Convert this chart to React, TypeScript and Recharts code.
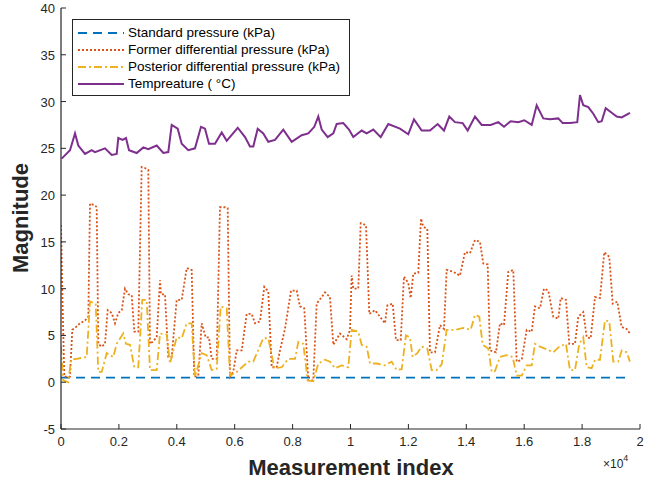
import { Line, LineChart, XAxis, YAxis } from "recharts";

// [measurement index, value]
const standardPressure: [number, number][] = [
  [0, 0.5], [4000, 0.5], [8000, 0.5], [12000, 0.5], [16000, 0.5], [19650, 0.5],
];

const formerPressure: [number, number][] = [
  [0, 16.8], [45, 9.8], [114, 0.6], [311, 0.6], [390, 5.6], [484, 5.8], [656, 6.3], [829, 6.6],
  [943, 7.0], [1002, 19.1], [1174, 18.9], [1233, 18.7], [1288, 4.1], [1406, 3.8], [1520, 4.1],
  [1613, 7.7], [1751, 7.4], [1865, 6.3], [1979, 7.4], [2097, 7.7], [2211, 10.0], [2325, 9.4],
  [2442, 9.3], [2532, 5.4], [2670, 5.4], [2787, 23.0], [2901, 22.9], [3015, 22.7], [3074, 4.1],
  [3154, 4.3], [3306, 4.8], [3420, 10.9], [3454, 9.4], [3592, 9.4], [3706, 2.7], [3824, 2.7],
  [3996, 8.8], [4169, 8.8], [4342, 12.2], [4514, 12.0], [4604, 0.6], [4742, 0.7], [4860, 6.3],
  [4998, 4.8], [5112, 4.8], [5205, 2.5], [5378, 2.5], [5492, 18.7], [5665, 18.7], [5758, 18.6],
  [5837, 0.6], [5951, 1.1], [6069, 3.4], [6242, 3.4], [6414, 7.3], [6587, 7.3], [6701, 6.3],
  [6873, 6.5], [7022, 10.2], [7160, 9.7], [7278, 1.6], [7450, 1.6], [7564, 3.4], [7737, 5.7],
  [7945, 9.8], [8141, 9.8], [8255, 8.1], [8404, 7.9], [8542, 0.2], [8714, 0.2], [8832, 8.4],
  [9005, 9.1], [9119, 9.6], [9291, 9.1], [9406, 4.0], [9637, 5.2], [9868, 4.6], [9982, 5.6],
  [10041, 11.4], [10096, 10.0], [10269, 10.0], [10352, 17.0], [10535, 16.8], [10649, 7.3],
  [10846, 7.7], [11019, 7.0], [11191, 6.3], [11271, 8.2], [11457, 8.4], [11571, 4.5], [11734, 4.5],
  [11847, 11.3], [11996, 10.6], [12079, 9.0], [12169, 11.6], [12342, 11.7], [12435, 17.5],
  [12515, 16.6], [12653, 16.4], [12745, 3.2], [12918, 3.2], [13091, 6.1], [13229, 5.7],
  [13322, 12.0], [13550, 11.8], [13782, 11.4], [13954, 13.9], [14127, 13.8], [14300, 15.2],
  [14472, 15.0], [14586, 12.7], [14738, 12.6], [14818, 3.4], [15025, 3.2], [15163, 6.3],
  [15302, 6.1], [15450, 11.8], [15623, 12.0], [15740, 2.2], [15913, 2.4], [16086, 5.6],
  [16259, 5.4], [16372, 8.1], [16545, 7.9], [16683, 10.0], [16832, 9.8], [17004, 7.0],
  [17177, 6.8], [17260, 9.0], [17443, 8.8], [17557, 4.1], [17754, 4.1], [17868, 7.0],
  [18041, 7.5], [18158, 4.8], [18296, 4.7], [18445, 9.1], [18617, 9.0], [18766, 13.9],
  [18939, 13.4], [19056, 8.4], [19215, 8.6], [19367, 5.9], [19540, 5.7], [19653, 5.2],
];

const posteriorPressure: [number, number][] = [
  [0, 3.8], [79, 0.2], [252, 0.0], [345, 2.4], [542, 2.5], [888, 2.7], [1002, 8.6], [1199, 8.4],
  [1288, 1.1], [1406, 1.1], [1579, 3.1], [1806, 2.7], [1924, 4.1], [2152, 5.2], [2245, 4.1],
  [2383, 4.0], [2532, 1.6], [2670, 1.6], [2808, 8.8], [2960, 8.8], [3074, 1.3], [3306, 1.3],
  [3420, 5.2], [3651, 5.1], [3765, 2.0], [3996, 4.8], [4169, 4.7], [4342, 6.3], [4514, 6.3],
  [4628, 0.6], [4860, 3.1], [5033, 2.9], [5205, 1.3], [5378, 1.4], [5516, 8.1], [5724, 7.9],
  [5837, 0.7], [6069, 1.1], [6470, 2.2], [6642, 2.2], [6987, 4.7], [7160, 4.7], [7368, 1.5],
  [7623, 1.6], [7851, 2.5], [8083, 2.5], [8197, 4.3], [8369, 4.1], [8521, 0.2], [8714, 0.1],
  [8887, 2.0], [9119, 2.4], [9291, 2.2], [9464, 1.5], [9696, 1.8], [9923, 1.6], [10041, 5.6],
  [10269, 5.4], [10386, 4.0], [10559, 3.8], [10673, 2.0], [10904, 2.0], [11191, 1.8],
  [11422, 2.2], [11595, 1.3], [11768, 1.4], [11916, 5.0], [12054, 4.8], [12147, 2.7],
  [12306, 3.1], [12459, 3.8], [12653, 3.6], [12804, 1.3], [12977, 1.3], [13150, 1.9],
  [13322, 5.6], [13609, 5.6], [13896, 5.8], [14151, 5.6], [14300, 7.2], [14448, 7.0],
  [14566, 4.0], [14759, 3.6], [14876, 1.1], [14990, 1.2], [15163, 2.7], [15394, 2.9],
  [15602, 2.7], [15740, 0.7], [15913, 0.7], [16086, 1.8], [16259, 1.8], [16372, 4.1],
  [16545, 3.8], [16718, 3.6], [17004, 3.2], [17212, 3.8], [17443, 4.1], [17581, 1.3],
  [17754, 1.3], [17902, 4.1], [18041, 4.8], [18158, 1.6], [18331, 1.5], [18445, 2.4],
  [18617, 2.4], [18790, 6.6], [18939, 6.5], [19077, 2.2], [19250, 2.2], [19367, 3.4],
  [19540, 3.2], [19653, 2.2],
];

const temperature: [number, number][] = [
  [24, 23.9], [311, 24.8], [484, 26.6], [598, 25.3], [829, 24.4], [1060, 24.8], [1174, 24.6],
  [1520, 25.0], [1751, 24.3], [1924, 24.4], [1979, 26.1], [2131, 25.9], [2245, 26.1], [2349, 24.8],
  [2615, 24.5], [2843, 25.1], [3015, 24.9], [3306, 25.3], [3534, 24.5], [3706, 24.6], [3824, 27.5],
  [4031, 27.1], [4169, 25.5], [4397, 24.8], [4628, 25.0], [4836, 27.3], [4974, 27.1], [5112, 25.5],
  [5319, 25.5], [5551, 26.7], [5724, 25.8], [6104, 27.2], [6356, 26.2], [6528, 25.2], [6642, 25.2],
  [6794, 27.1], [6987, 26.6], [7160, 25.7], [7392, 25.9], [7678, 27.0], [7969, 25.7], [8314, 26.4],
  [8542, 26.6], [8749, 27.3], [8887, 28.4], [9005, 27.0], [9212, 26.2], [9406, 26.6], [9523, 27.6],
  [9751, 27.7], [9948, 27.0], [10096, 26.2], [10386, 26.9], [10559, 26.6], [10787, 27.0],
  [11043, 26.2], [11305, 27.6], [11709, 27.1], [11996, 26.5], [12193, 28.1], [12459, 26.9],
  [12745, 26.9], [13011, 27.6], [13229, 26.9], [13412, 28.4], [13609, 27.8], [13875, 27.7],
  [14048, 26.9], [14300, 28.4], [14531, 27.5], [14842, 27.5], [15105, 27.8], [15302, 27.3],
  [15533, 27.9], [15796, 27.8], [16003, 28.0], [16259, 27.5], [16431, 29.6], [16659, 28.2],
  [16891, 28.1], [17177, 28.2], [17329, 27.7], [17581, 27.7], [17833, 27.8], [17927, 30.7],
  [18041, 29.6], [18214, 29.4], [18387, 28.7], [18559, 27.8], [18677, 27.9], [18815, 29.3],
  [19022, 28.8], [19195, 28.4], [19367, 28.3], [19653, 28.8],
];

const xTicks = [0, 2000, 4000, 6000, 8000, 10000, 12000, 14000, 16000, 18000, 20000];
const yTicks = [-5, 0, 5, 10, 15, 20, 25, 30, 35, 40];

const seriesNames = [
  "Standard pressure (kPa)",
  "Former differential pressure (kPa)",
  "Posterior differential pressure (kPa)",
  "Tempreature ( \u00B0C)",
];
const seriesColors = ["#0072BD", "#D95319", "#EDB120", "#7E2F8E"];
const seriesDash = ["9 6", "2 2", "8 3 2 3", undefined];
const seriesWidth = [1.8, 1.8, 1.8, 2];
const seriesData = [standardPressure, formerPressure, posteriorPressure, temperature];

const AXIS = "#262626";
const FONT = "'Liberation Sans', Arial, Helvetica, sans-serif";

const toRows = (pts: [number, number][]) => pts.map(([x, v]) => ({ x, v }));

function BottomTick(props: any) {
  const { x, y, payload } = props;
  return (
    <g>
      <line x1={x} x2={x} y1={y} y2={y - 5} stroke={AXIS} strokeWidth={1} />
      <text x={x} y={y + 17} textAnchor="middle" fontSize={13} fill={AXIS} fontFamily={FONT}>
        {String(payload.value / 10000)}
      </text>
    </g>
  );
}

function TopTick(props: any) {
  const { x, y } = props;
  return <line x1={x} x2={x} y1={y} y2={y + 5} stroke={AXIS} strokeWidth={1} />;
}

function LeftTick(props: any) {
  const { x, y, payload } = props;
  const axisX = x + 6;
  return (
    <g>
      <line x1={axisX} x2={axisX + 5} y1={y} y2={y} stroke={AXIS} strokeWidth={1} />
      <text x={x} y={y + 5} textAnchor="end" fontSize={13} fill={AXIS} fontFamily={FONT}>
        {String(payload.value)}
      </text>
    </g>
  );
}

function RightTick(props: any) {
  const { x, y } = props;
  return <line x1={x} x2={x - 5} y1={y} y2={y} stroke={AXIS} strokeWidth={1} />;
}

function LegendBox() {
  return (
    <div
      style={{
        position: "absolute",
        left: 72,
        top: 19,
        width: 276,
        height: 75,
        border: `1.5px solid ${AXIS}`,
        background: "#fff",
        fontFamily: FONT,
        fontSize: 13.5,
        color: "#000",
        boxSizing: "content-box",
      }}
    >
      {seriesNames.map((name, i) => (
        <div
          key={name}
          style={{ position: "absolute", left: 4, top: 4 + i * 17, height: 17, display: "flex", alignItems: "center", whiteSpace: "nowrap" }}
        >
          <svg width={48} height={10} style={{ marginRight: 3 }}>
            <line
              x1={1}
              x2={47}
              y1={5}
              y2={5}
              stroke={seriesColors[i]}
              strokeWidth={seriesWidth[i]}
              strokeDasharray={seriesDash[i]}
            />
          </svg>
          <span>{name}</span>
        </div>
      ))}
    </div>
  );
}

export default function App() {
  return (
    <div style={{ position: "fixed", left: 0, top: 0, width: 660, height: 481, background: "#fff" }}>
      <LineChart width={660} height={481} margin={{ top: 8, right: 20, left: 20, bottom: 30 }}>
        <XAxis
          xAxisId="b"
          dataKey="x"
          type="number"
          domain={[0, 20000]}
          ticks={xTicks}
          interval={0}
          height={22}
          tickSize={0}
          tickMargin={0}
          tickLine={false}
          axisLine={{ stroke: AXIS, strokeWidth: 1.2 }}
          tick={BottomTick}
          allowDataOverflow
        />
        <XAxis
          xAxisId="t"
          orientation="top"
          type="number"
          domain={[0, 20000]}
          ticks={xTicks}
          interval={0}
          height={0}
          tickSize={0}
          tickMargin={0}
          tickLine={false}
          axisLine={{ stroke: AXIS, strokeWidth: 1.2 }}
          tick={TopTick}
          allowDataOverflow
        />
        <YAxis
          yAxisId="l"
          type="number"
          domain={[-5, 40]}
          ticks={yTicks}
          interval={0}
          width={41}
          tickSize={0}
          tickMargin={6}
          tickLine={false}
          axisLine={{ stroke: AXIS, strokeWidth: 1.2 }}
          tick={LeftTick}
          allowDataOverflow
        />
        <YAxis
          yAxisId="r"
          orientation="right"
          type="number"
          domain={[-5, 40]}
          ticks={yTicks}
          interval={0}
          width={0}
          tickSize={0}
          tickMargin={0}
          tickLine={false}
          axisLine={{ stroke: AXIS, strokeWidth: 1.2 }}
          tick={RightTick}
          allowDataOverflow
        />
        {seriesData.map((pts, i) => (
          <Line
            key={seriesNames[i]}
            xAxisId="b"
            yAxisId="l"
            data={toRows(pts)}
            dataKey="v"
            name={seriesNames[i]}
            type="linear"
            stroke={seriesColors[i]}
            strokeWidth={seriesWidth[i]}
            strokeDasharray={seriesDash[i]}
            dot={false}
            activeDot={false}
            isAnimationActive={false}
          />
        ))}
        <text
          x={22}
          y={218}
          transform="rotate(-90 22 218)"
          textAnchor="middle"
          dominantBaseline="middle"
          fontSize={22}
          fontWeight="bold"
          fill={AXIS}
          fontFamily={FONT}
        >
          Magnitude
        </text>
        <text x={351} y={475} textAnchor="middle" fontSize={22} fontWeight="bold" fill={AXIS} fontFamily={FONT}>
          Measurement index
        </text>
        <text x={603} y={468} fontSize={12} fill={AXIS} fontFamily={FONT}>
          {"\u00D710"}
          <tspan dy={-7} fontSize={9}>4</tspan>
        </text>
      </LineChart>
      <LegendBox />
    </div>
  );
}
